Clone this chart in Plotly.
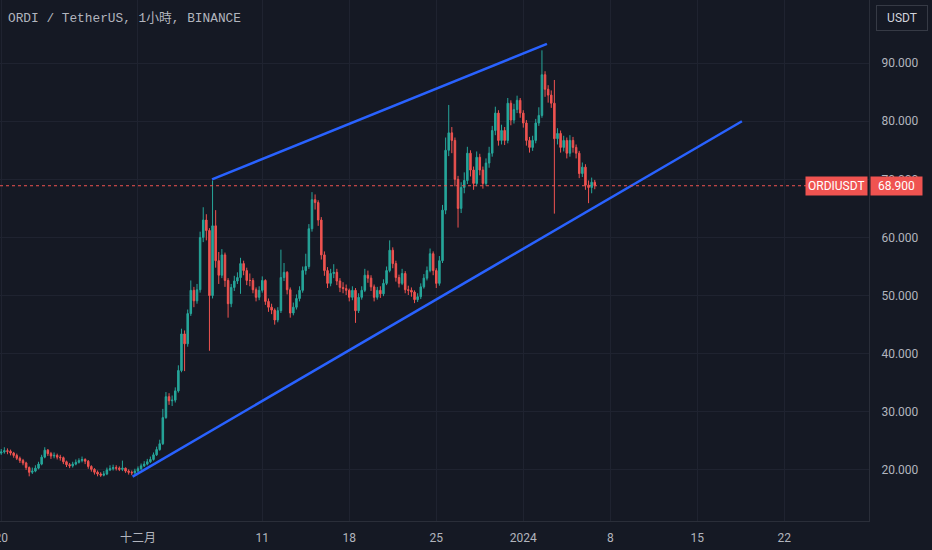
import pandas as pd
import plotly.graph_objects as go

# 6-hour candles, starting 2023-11-19 18:00
opens = [
    22.6, 22.9, 23.1, 23.3, 23.2, 22.9, 22.5, 22.0, 21.6, 21.2,
    20.4, 19.6, 19.8, 20.3, 21.0, 22.2, 23.4, 22.8, 22.4, 22.5,
    22.2, 22.1, 21.4, 20.9, 20.7, 21.0, 21.3, 21.6, 21.8, 21.5,
    20.6, 20.1, 19.6, 19.3, 19.1, 19.3, 20.0, 20.2, 20.4, 20.3,
    20.1, 20.3, 19.8, 19.6, 19.5, 19.8, 20.2, 20.7, 21.0, 21.4,
    21.8, 22.6, 23.5, 24.5, 29.0, 32.6, 31.9, 32.0, 33.6, 37.1,
    43.4, 41.7, 46.9, 50.9, 49.1, 51.0, 60.0, 63.0, 61.2, 50.0,
    62.0, 56.0, 53.5, 57.0, 52.6, 48.6, 51.4, 52.5, 53.1, 55.5,
    54.3, 52.6, 52.6, 51.0, 49.7, 50.9, 52.6, 49.0, 48.0, 47.5,
    45.8, 47.4, 53.1, 54.0, 51.0, 47.0, 48.0, 49.5, 50.9, 54.3,
    55.0, 61.5, 66.5, 66.0, 63.0, 57.0, 54.3, 52.1, 53.8, 54.0,
    52.5, 51.4, 51.2, 50.9, 49.7, 50.9, 47.4, 49.7, 50.9, 53.5,
    53.0, 51.5, 49.7, 50.9, 50.3, 52.1, 54.3, 57.8, 55.5, 53.1,
    52.1, 53.8, 51.0, 50.9, 50.6, 49.3, 49.8, 51.5, 53.0, 54.3,
    57.2, 54.3, 52.1, 56.0, 64.7, 75.0, 78.0, 76.7, 70.0, 65.0,
    68.6, 69.8, 74.5, 71.6, 69.3, 73.8, 71.6, 69.3, 72.8, 74.5,
    78.4, 81.4, 76.7, 78.4, 76.7, 83.1, 80.2, 82.0, 83.6, 81.4,
    79.7, 76.7, 75.5, 76.7, 79.7, 81.0, 88.0, 85.5, 84.5, 83.1,
    77.0, 77.9, 75.5, 76.7, 74.5, 76.7, 75.5, 74.5, 71.0, 72.1,
    69.0, 68.6, 69.5,
]
highs = [
    23.4, 23.6, 23.9, 23.7, 23.5, 23.1, 22.8, 22.3, 21.9, 21.4,
    20.6, 20.4, 20.8, 21.4, 22.6, 23.9, 23.6, 23.1, 23.0, 22.8,
    22.6, 22.3, 21.6, 21.2, 21.4, 21.8, 22.0, 22.3, 22.0, 21.7,
    20.8, 20.3, 19.9, 19.6, 19.8, 20.4, 20.8, 20.9, 20.8, 20.6,
    21.6, 20.4, 20.1, 19.9, 20.2, 20.6, 21.1, 21.5, 21.9, 22.3,
    23.0, 24.0, 25.2, 30.5, 33.4, 33.2, 32.8, 34.2, 38.0, 44.3,
    44.0, 47.6, 52.6, 51.5, 52.0, 61.0, 65.2, 64.0, 61.6, 69.8,
    64.7, 57.5, 58.0, 57.4, 53.0, 52.0, 53.4, 54.0, 56.5, 56.0,
    54.8, 53.8, 53.0, 51.4, 51.6, 53.3, 52.8, 49.5, 48.6, 47.8,
    48.0, 57.9, 55.6, 54.2, 51.4, 48.8, 50.2, 51.6, 55.0, 57.2,
    62.3, 67.8, 67.4, 66.4, 63.5, 57.6, 54.9, 54.6, 55.4, 54.6,
    53.0, 52.3, 51.9, 51.2, 51.6, 51.3, 50.4, 51.6, 54.6, 54.3,
    53.5, 51.9, 51.5, 51.6, 52.8, 55.0, 59.5, 58.3, 56.0, 53.6,
    54.6, 54.2, 51.7, 51.4, 50.9, 50.4, 52.1, 53.7, 55.0, 58.1,
    57.6, 54.7, 56.8, 65.6, 77.2, 82.8, 79.0, 77.2, 70.6, 69.5,
    71.2, 75.6, 75.0, 72.2, 74.8, 74.4, 72.2, 73.6, 75.6, 79.2,
    82.5, 81.9, 79.4, 79.0, 84.0, 83.6, 83.0, 84.4, 84.0, 81.9,
    80.2, 77.3, 77.5, 80.4, 82.4, 92.2, 88.6, 86.2, 85.3, 87.1,
    78.8, 78.4, 77.5, 77.2, 77.6, 77.3, 76.0, 74.9, 72.9, 72.6,
    69.8, 70.3, 69.9,
]
lows = [
    22.3, 22.6, 22.8, 22.7, 22.5, 22.1, 21.7, 21.2, 20.8, 20.0,
    18.9, 19.3, 19.6, 20.1, 20.8, 22.0, 22.4, 21.9, 22.0, 21.8,
    21.6, 21.0, 20.5, 20.3, 20.4, 20.8, 21.1, 21.3, 21.0, 20.2,
    19.7, 19.2, 18.9, 18.8, 18.9, 19.1, 19.8, 19.9, 19.9, 19.8,
    19.8, 19.5, 19.2, 19.1, 19.3, 19.6, 20.0, 20.5, 20.8, 21.2,
    21.6, 22.4, 23.3, 24.3, 28.8, 31.2, 31.0, 31.6, 33.3, 36.8,
    37.0, 41.2, 46.5, 48.0, 48.6, 50.5, 59.2, 59.5, 40.5, 49.5,
    54.8, 52.0, 53.0, 51.5, 46.2, 48.0, 50.8, 52.0, 50.3, 53.5,
    51.8, 51.6, 50.4, 49.0, 49.2, 50.5, 48.4, 47.2, 46.8, 45.0,
    45.4, 47.0, 52.5, 50.2, 46.2, 46.6, 47.6, 49.0, 50.5, 53.6,
    54.6, 61.0, 64.8, 62.0, 56.2, 53.4, 51.3, 51.6, 53.0, 51.8,
    50.6, 50.4, 50.1, 49.0, 49.2, 45.3, 47.0, 49.3, 50.6, 52.2,
    50.8, 49.0, 49.3, 49.6, 49.9, 51.8, 54.0, 54.7, 52.4, 51.4,
    51.8, 50.4, 50.1, 49.8, 48.7, 48.9, 49.4, 51.2, 52.6, 54.0,
    53.5, 51.3, 51.7, 55.6, 64.0, 74.0, 74.5, 68.8, 61.7, 64.2,
    67.6, 69.2, 70.5, 68.2, 68.8, 70.7, 68.4, 68.9, 72.0, 73.9,
    77.6, 75.8, 76.0, 75.9, 76.2, 79.3, 79.6, 81.4, 80.6, 78.9,
    75.8, 74.6, 74.9, 76.2, 79.2, 80.6, 84.2, 83.2, 82.3, 64.1,
    76.0, 74.6, 74.8, 73.6, 73.9, 74.6, 73.6, 70.2, 70.4, 68.2,
    65.9, 67.6, 68.3,
]
closes = [
    22.9, 23.1, 23.3, 23.2, 22.9, 22.5, 22.0, 21.6, 21.2, 20.4,
    19.6, 19.8, 20.3, 21.0, 22.2, 23.4, 22.8, 22.4, 22.5, 22.2,
    22.1, 21.4, 20.9, 20.7, 21.0, 21.3, 21.6, 21.8, 21.5, 20.6,
    20.1, 19.6, 19.3, 19.1, 19.3, 20.0, 20.2, 20.4, 20.3, 20.1,
    20.3, 19.8, 19.6, 19.5, 19.8, 20.2, 20.7, 21.0, 21.4, 21.8,
    22.6, 23.5, 24.5, 29.0, 32.6, 31.9, 32.0, 33.6, 37.1, 43.4,
    41.7, 46.9, 50.9, 49.1, 51.0, 60.0, 63.0, 61.2, 50.0, 62.0,
    56.0, 53.5, 57.0, 52.6, 48.6, 51.4, 52.5, 53.1, 55.5, 54.3,
    52.6, 52.6, 51.0, 49.7, 50.9, 52.6, 49.0, 48.0, 47.5, 45.8,
    47.4, 53.1, 54.0, 51.0, 47.0, 48.0, 49.5, 50.9, 54.3, 55.0,
    61.5, 66.5, 66.0, 63.0, 57.0, 54.3, 52.1, 53.8, 54.0, 52.5,
    51.4, 51.2, 50.9, 49.7, 50.9, 47.4, 49.7, 50.9, 53.5, 53.0,
    51.5, 49.7, 50.9, 50.3, 52.1, 54.3, 57.8, 55.5, 53.1, 52.1,
    53.8, 51.0, 50.9, 50.6, 49.3, 49.8, 51.5, 53.0, 54.3, 57.2,
    54.3, 52.1, 56.0, 64.7, 75.0, 78.0, 76.7, 70.0, 65.0, 68.6,
    69.8, 74.5, 71.6, 69.3, 73.8, 71.6, 69.3, 72.8, 74.5, 78.4,
    81.4, 76.7, 78.4, 76.7, 83.1, 80.2, 82.0, 83.6, 81.4, 79.7,
    76.7, 75.5, 76.7, 79.7, 81.0, 88.0, 85.5, 84.5, 83.1, 77.0,
    77.9, 75.5, 76.7, 74.5, 76.7, 75.5, 74.5, 71.0, 72.1, 69.0,
    68.6, 69.5, 68.9,
]
times = pd.date_range("2023-11-19 18:00", periods=len(closes), freq="6h")

# hand-drawn channel lines
upper_x = ["2023-12-06 23:00", "2024-01-02 21:40"]
upper_y = [70.0, 93.3]
lower_x = ["2023-11-30 13:40", "2024-01-18 14:10"]
lower_y = [18.85, 80.0]

last_price = 68.9
tick_dates = ["2023-11-20", "2023-12-01", "2023-12-11", "2023-12-18", "2023-12-25",
              "2024-01-01", "2024-01-08", "2024-01-15", "2024-01-22"]
tick_text = ["20", "十二月", "11", "18", "25", "2024", "8", "15", "22"]
price_ticks = [20, 30, 40, 50, 60, 70, 80, 90]

BG = "#151924"
GRID = "#1f2330"
TXT = "#b2b5be"
UP = "#26a69a"
DOWN = "#ef5350"
BLUE = "#2962ff"

fig = go.Figure()
fig.add_trace(go.Candlestick(
    x=times, open=opens, high=highs, low=lows, close=closes,
    increasing=dict(line=dict(color=UP, width=1), fillcolor=UP),
    decreasing=dict(line=dict(color=DOWN, width=1), fillcolor=DOWN),
    whiskerwidth=0, showlegend=False,
))
for xs, ys in [(upper_x, upper_y), (lower_x, lower_y)]:
    fig.add_trace(go.Scatter(x=xs, y=ys, mode="lines",
                             line=dict(color=BLUE, width=2.5), showlegend=False))

fig.add_shape(type="line", xref="paper", x0=0, x1=1, yref="y",
              y0=last_price, y1=last_price,
              line=dict(color=DOWN, width=1, dash="dot"))

fig.update_layout(
    width=932, height=550,
    margin=dict(l=0, r=63, t=0, b=29, autoexpand=False),
    paper_bgcolor=BG, plot_bgcolor=BG,
    font=dict(family="Roboto, Noto Sans CJK SC, sans-serif", size=12, color=TXT),
    xaxis=dict(
        range=["2023-11-19 21:36", "2024-01-28 19:30"],
        tickvals=tick_dates, ticktext=tick_text,
        showgrid=True, gridcolor=GRID, zeroline=False,
        showline=True, linecolor="#2a2e39", linewidth=1,
        rangeslider=dict(visible=False), ticks="", ticklabelstandoff=6,
        ticklabeloverflow="allow", automargin=False,
        tickfont=dict(family="Roboto, Noto Sans CJK SC, sans-serif", size=12, color=TXT),
    ),
    yaxis=dict(
        side="right", range=[11.21, 100.86],
        tickvals=price_ticks, tickformat=".3f",
        showgrid=True, gridcolor=GRID, zeroline=False,
        showline=True, linecolor="#2a2e39", linewidth=1,
        ticks="", ticklabelstandoff=9, automargin=False,
    ),
    annotations=[
        dict(text="ORDI / TetherUS, 1小時, BINANCE", xref="paper", yref="paper",
             x=0, y=1, xanchor="left", yanchor="top", xshift=6, yshift=-9,
             showarrow=False,
             font=dict(family="Liberation Mono, Noto Sans CJK TC, monospace",
                       size=12.8, color=TXT)),
        dict(text="USDT", xref="paper", yref="paper", x=1, y=1,
             xanchor="center", yanchor="top", xshift=33, yshift=-5,
             width=48, height=22, borderpad=1,
             showarrow=False, bgcolor=BG, bordercolor="#363a45", borderwidth=1,
             font=dict(size=12, color="#d1d4dc")),
        dict(text="ORDIUSDT", xref="paper", yref="y", x=1, y=last_price,
             xanchor="right", yanchor="middle", xshift=-1, showarrow=False,
             height=14, bgcolor=DOWN, borderpad=2, font=dict(size=12, color="#ffffff")),
        dict(text="68.900", xref="paper", yref="y", x=1, y=last_price,
             xanchor="left", yanchor="middle", xshift=1, showarrow=False,
             width=47, height=14, bgcolor=DOWN, borderpad=2,
             font=dict(size=12, color="#ffffff")),
    ],
)

# the page body has an 8px default margin; drop it so the figure fills the window
fig.write_html("out.html", config={"displayModeBar": False},
               post_script="document.body.style.margin='0';")
